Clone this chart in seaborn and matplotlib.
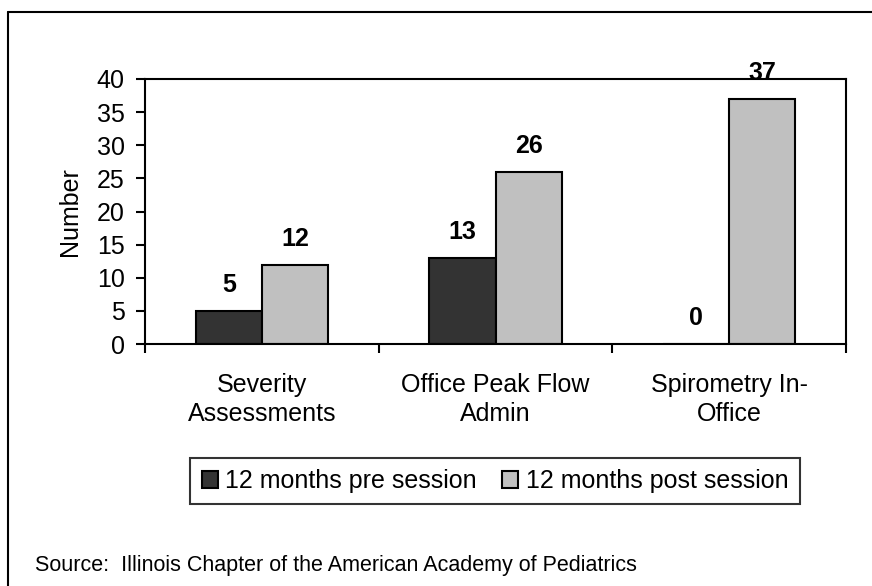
import matplotlib
matplotlib.use("Agg")
import matplotlib.pyplot as plt
from matplotlib.lines import Line2D
import seaborn as sns
import pandas as pd

categories = ["Severity\nAssessments", "Office Peak Flow\nAdmin", "Spirometry In-\nOffice"]
series_names = ["12 months pre session", "12 months post session"]
pre_values = [5, 13, 0]
post_values = [12, 26, 37]
y_ticks = [0, 5, 10, 15, 20, 25, 30, 35, 40]
y_label = "Number"
source_text = "Source:  Illinois Chapter of the American Academy of Pediatrics"

sns.set_theme(style="white")
plt.rcParams['font.family'] = ['Liberation Sans', 'DejaVu Sans']
plt.rcParams.update({"text.color": "black", "axes.labelcolor": "black",
                     "xtick.color": "black", "ytick.color": "black"})

df = pd.DataFrame({
    "cat": categories * 2,
    "series": [series_names[0]] * 3 + [series_names[1]] * 3,
    "value": pre_values + post_values,
})

fig = plt.figure(figsize=(8.72, 5.86), dpi=100)
ax = fig.add_axes([145/872, 1 - 344/586, (846-145)/872, (344-79)/586])

sns.barplot(data=df, x="cat", y="value", hue="series", hue_order=series_names,
            palette=["#333333", "#C0C0C0"], edgecolor="black", linewidth=1.5,
            width=0.565, ax=ax, legend=True)

for cont in ax.containers:
    ax.bar_label(cont, padding=10, fontsize=18, fontweight="bold", color="black")

ax.set_ylim(0, 40)
ax.set_xlim(-0.5, 2.5)
ax.set_yticks(y_ticks)
ax.set_yticklabels([str(v) for v in y_ticks], fontsize=18)
ax.set_xticks([-0.5, 0.5, 1.5, 2.5])
ax.set_xticklabels([])
ax.set_xticks([0, 1, 2], minor=True)
ax.set_xticklabels(categories, minor=True, fontsize=18, linespacing=1.25)
ax.tick_params(axis="x", which="minor", length=0, pad=21)
ax.tick_params(axis="x", which="major", direction="out", length=6.5, width=1.5, color="black", bottom=True)
ax.tick_params(axis="y", direction="out", length=6.5, width=1.5, color="black", left=True, pad=8)
ax.set_xlabel("")
ax.set_ylabel(y_label, fontsize=18, labelpad=11)
for s in ax.spines.values():
    s.set_visible(True)
    s.set_color("black")
    s.set_linewidth(1.5)

ax.get_legend().remove()
handles, labels = ax.get_legend_handles_labels()
leg = fig.legend(handles, labels, loc="center", bbox_to_anchor=(495/872, 1 - 481/586),
                 ncol=2, frameon=True, fancybox=False, edgecolor="black", fontsize=18,
                 handlelength=0.65, handleheight=0.65, handletextpad=0.3, columnspacing=1.0,
                 borderpad=0.45, borderaxespad=0)
leg.get_frame().set_linewidth(1.5)

fig.text(35/872, 1 - 565/586, source_text, fontsize=15.5, va="center", ha="left")

fig.add_artist(Line2D([8/872, 1], [1 - 12/586, 1 - 12/586], color="black", lw=1.5, transform=fig.transFigure))
fig.add_artist(Line2D([8/872, 8/872], [0, 1 - 12/586], color="black", lw=1.5, transform=fig.transFigure))

fig.savefig("out.png", dpi=100)
